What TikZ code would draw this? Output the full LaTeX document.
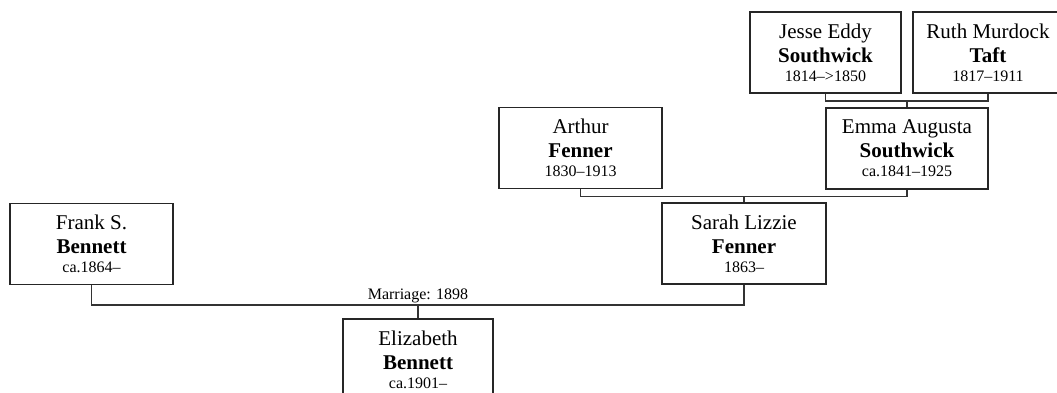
\documentclass[tikz,border=0pt]{standalone}
\usepackage{fontspec}
\setmainfont{Liberation Serif}
\newcommand{\namefont}{\fontsize{21}{24}\selectfont}
\newcommand{\datefont}{\fontsize{16}{19}\selectfont}
\tikzset{
  personbox/.style={draw=black!85, line width=1.1pt, fill=white, minimum width=150pt, minimum height=81pt, align=center, inner sep=2pt, font=\namefont},
  famline/.style={line width=1.1pt, draw=black!80},
  relabel/.style={font=\datefont, inner sep=1.5pt}
}

\begin{document}
\begin{tikzpicture}[x=1pt, y=-1pt]
  \useasboundingbox (0,0) rectangle (1057,393);
  \node[personbox, minimum width=151pt] (jesse) at (825.5,52.5) {Jesse Eddy\\\textbf{Southwick}\\[-5pt]{\datefont 1814–>1850}};
  \node[personbox] (ruth) at (988,52.5) {Ruth Murdock\\\textbf{Taft}\\[-5pt]{\datefont 1817–1911}};
  \node[personbox, minimum width=162pt] (emma) at (907,148.5) {Emma Augusta\\\textbf{Southwick}\\[-5pt]{\datefont ca.1841–1925}};
  \node[personbox, minimum width=163pt] (arthur) at (580.5,148) {Arthur\\\textbf{Fenner}\\[-5pt]{\datefont 1830–1913}};
  \node[personbox, minimum width=164pt] (sarah) at (744,243.5) {Sarah Lizzie\\\textbf{Fenner}\\[-5pt]{\datefont 1863–}};
  \node[personbox, minimum width=163pt] (frank) at (91.5,244) {Frank S.\\\textbf{Bennett}\\[-5pt]{\datefont ca.1864–}};
  \node[personbox] (eliz) at (418,359.5) {Elizabeth\\\textbf{Bennett}\\[-5pt]{\datefont ca.1901–}};
  % parents of Emma
  \coordinate (jrbar) at (907,101);
  \draw[famline] (jesse.south) |- (jrbar) -| (ruth.south);
  \draw[famline] (jrbar) -- (emma.north);
  % parents of Sarah
  \coordinate (aebar) at (744,196.5);
  \draw[famline] (arthur.south) |- (aebar) -| (emma.south);
  \draw[famline] (aebar) -- (sarah.north);
  % marriage
  \coordinate (mbar) at (418,305);
  \draw[famline] (frank.south) |- (mbar) -| (sarah.south);
  \draw[famline] (mbar) -- (eliz.north);
  \node[relabel, above] (marr) at (mbar) {Marriage: 1898};
\end{tikzpicture}
\end{document}
